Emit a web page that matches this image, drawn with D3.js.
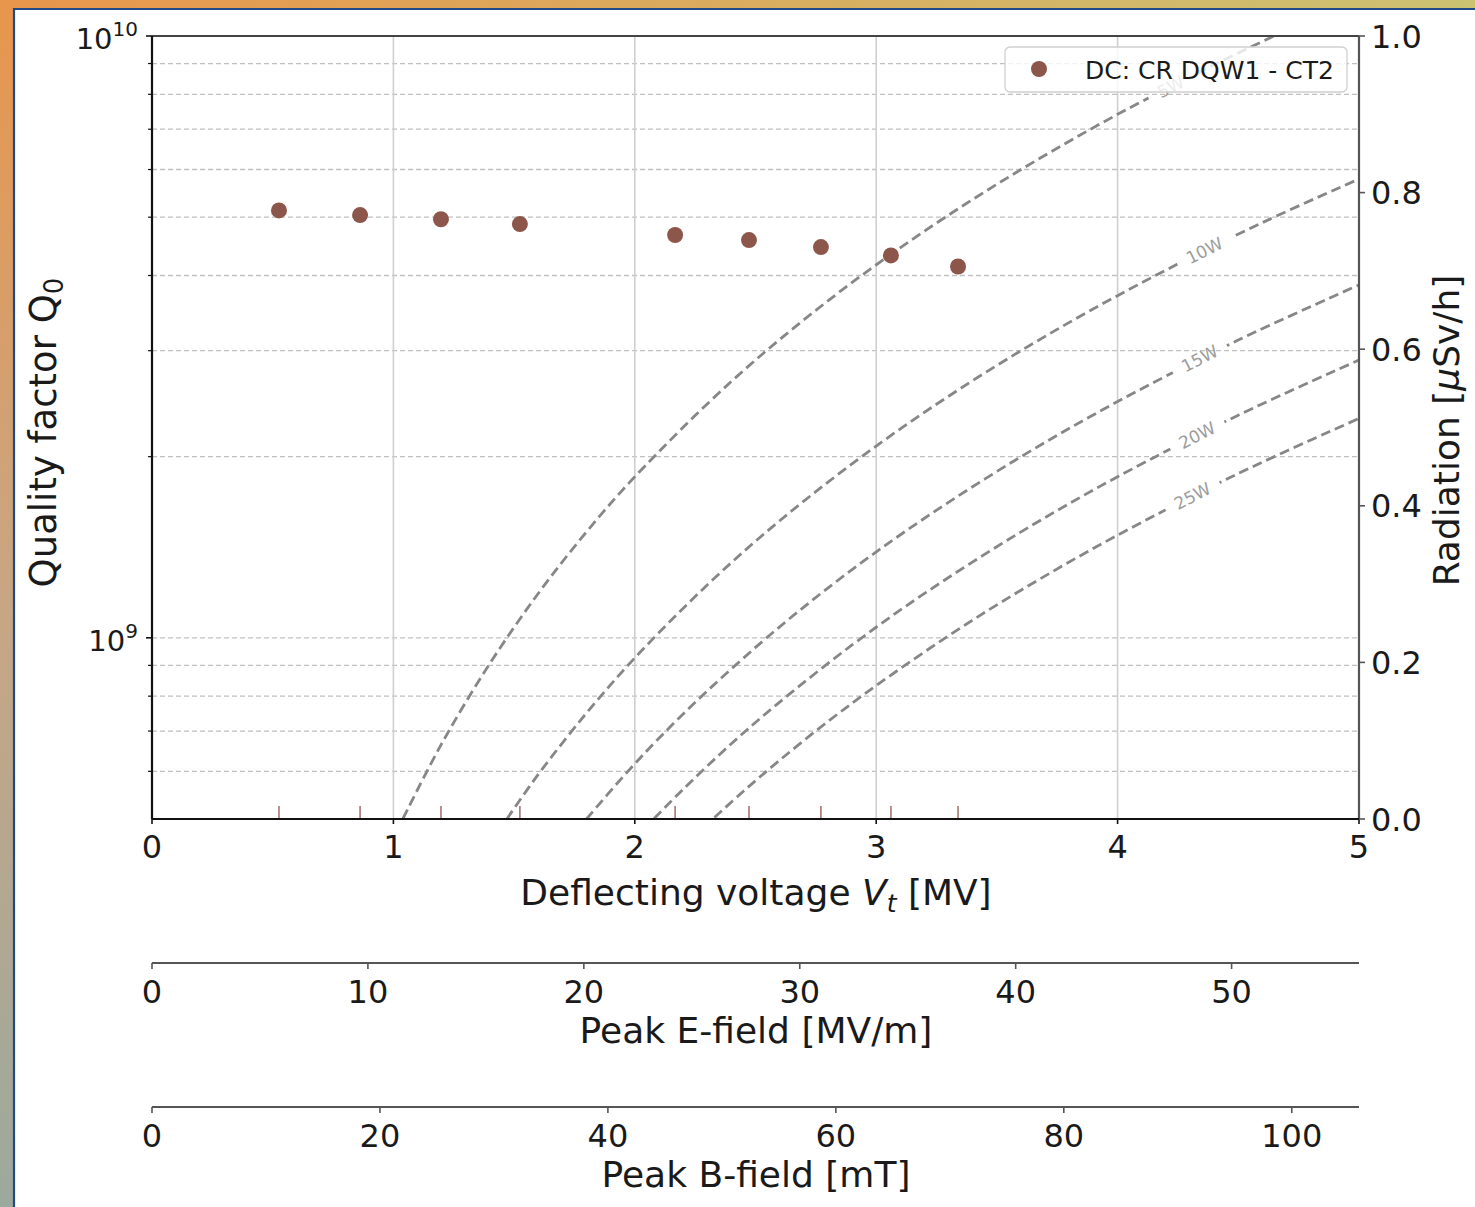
<!DOCTYPE html>
<html>
<head>
<meta charset="utf-8">
<script src="https://cdn.jsdelivr.net/npm/d3@7/dist/d3.min.js"></script>
<style>
  body { margin: 0; background: #fff; }
  svg { display: block; }
  text { font-family: "DejaVu Sans", sans-serif; fill: #1a1a1a; }
</style>
</head>
<body>
<div id="chart"></div>
<script>
// measured points (cavity DC: CR DQW1 - CT2)
const voltage = [0.526, 0.862, 1.197, 1.524, 2.167, 2.473, 2.771, 3.061, 3.339];
const q0 = [5.13e9, 5.04e9, 4.96e9, 4.87e9, 4.67e9, 4.58e9, 4.46e9, 4.32e9, 4.14e9];
const radiation = [0, 0, 0, 0, 0, 0, 0, 0, 0];

// constant dissipated power lines
const powerLabels = ["5W", "10W", "15W", "20W", "25W"];
const powerV = [
  [1.04, 1.2, 1.4, 1.6, 1.8, 2.0, 2.4, 2.8, 3.2, 3.6, 4.0, 4.4, 4.65],
  [1.47, 1.6, 1.8, 2.0, 2.3, 2.6, 3.0, 3.4, 3.8, 4.2, 4.6, 5.0],
  [1.8, 1.95, 2.1, 2.3, 2.6, 2.9, 3.2, 3.6, 4.0, 4.5, 5.0],
  [2.08, 2.2, 2.4, 2.6, 2.9, 3.2, 3.6, 4.0, 4.5, 5.0],
  [2.33, 2.45, 2.6, 2.8, 3.0, 3.3, 3.6, 4.0, 4.5, 5.0]
];
const powerQ = [
  [5.01e8, 6.67e8, 9.07e8, 1.185e9, 1.50e9, 1.852e9, 2.667e9, 3.63e9, 4.74e9, 6.00e9, 7.41e9, 8.96e9, 1.001e10],
  [5.00e8, 5.93e8, 7.50e8, 9.26e8, 1.224e9, 1.565e9, 2.083e9, 2.676e9, 3.343e9, 4.083e9, 4.898e9, 5.787e9],
  [5.00e8, 5.87e8, 6.81e8, 8.16e8, 1.043e9, 1.298e9, 1.580e9, 2.00e9, 2.469e9, 3.125e9, 3.858e9],
  [5.01e8, 5.60e8, 6.67e8, 7.82e8, 9.73e8, 1.185e9, 1.50e9, 1.852e9, 2.344e9, 2.894e9],
  [5.03e8, 5.56e8, 6.26e8, 7.26e8, 8.33e8, 1.008e9, 1.20e9, 1.481e9, 1.875e9, 2.315e9]
];
const labelV = [4.22, 4.36, 4.34, 4.33, 4.31];
const labelQ = [8.23e9, 4.40e9, 2.91e9, 2.17e9, 1.72e9];

// axes
const xDomain = [0, 5];
const xTicks = [0, 1, 2, 3, 4, 5];
const qDomain = [5e8, 1e10];
const qMajor = [1e9, 1e10];
const qMinor = [6e8, 7e8, 8e8, 9e8, 2e9, 3e9, 4e9, 5e9, 6e9, 7e9, 8e9, 9e9];
const radDomain = [0, 1];
const radTicks = [0, 0.2, 0.4, 0.6, 0.8, 1.0];
const eDomain = [0, 55.9];
const eTicks = [0, 10, 20, 30, 40, 50];
const bDomain = [0, 105.9];
const bTicks = [0, 20, 40, 60, 80, 100];

const W = 1475, H = 1207;
const pL = 152, pR = 1359, pT = 36, pB = 819;
const brown = "#8c564b";

const svg = d3.select("#chart").append("svg").attr("width", W).attr("height", H);
const defs = svg.append("defs");

// slide background frame
const gTop = defs.append("linearGradient").attr("id", "gTop").attr("x1", 0).attr("x2", 1).attr("y1", 0).attr("y2", 0);
gTop.append("stop").attr("offset", 0).attr("stop-color", "#e8964c");
gTop.append("stop").attr("offset", 1).attr("stop-color", "#cbc272");
const gLeft = defs.append("linearGradient").attr("id", "gLeft").attr("x1", 0).attr("x2", 0).attr("y1", 0).attr("y2", 1);
gLeft.append("stop").attr("offset", 0).attr("stop-color", "#e8964c");
gLeft.append("stop").attr("offset", 0.5).attr("stop-color", "#c8a684");
gLeft.append("stop").attr("offset", 1).attr("stop-color", "#9ca99e");
svg.append("rect").attr("x", 0).attr("y", 0).attr("width", W).attr("height", 9).attr("fill", "url(#gTop)");
svg.append("rect").attr("x", 0).attr("y", 0).attr("width", 14).attr("height", H).attr("fill", "url(#gLeft)");
svg.append("path").attr("d", `M14,${H}V9H${W}`).attr("fill", "none").attr("stroke", "#1f4a85").attr("stroke-width", 2.2);

const x = d3.scaleLinear().domain(xDomain).range([pL, pR]);
const y = d3.scaleLog().domain(qDomain).range([pB, pT]);
const yr = d3.scaleLinear().domain(radDomain).range([pB, pT]);
const xe = d3.scaleLinear().domain(eDomain).range([pL, pR]);
const xb = d3.scaleLinear().domain(bDomain).range([pL, pR]);

defs.append("clipPath").attr("id", "plotClip")
  .append("rect").attr("x", pL).attr("y", pT).attr("width", pR - pL).attr("height", pB - pT);

// grid
const grid = svg.append("g");
grid.selectAll(".hg").data(qMajor.concat(qMinor)).enter().append("line")
  .attr("x1", pL).attr("x2", pR)
  .attr("y1", d => y(d)).attr("y2", d => y(d))
  .attr("stroke", "#c0c0c0").attr("stroke-width", 1.3).attr("stroke-dasharray", "5,3");
grid.selectAll(".vg").data(xTicks.slice(1, -1)).enter().append("line")
  .attr("x1", d => x(d)).attr("x2", d => x(d))
  .attr("y1", pT).attr("y2", pB)
  .attr("stroke", "#cfcfcf").attr("stroke-width", 1.6);

// contour lines, broken where labels sit
const mask = defs.append("mask").attr("id", "gapMask").attr("maskUnits", "userSpaceOnUse")
  .attr("x", 0).attr("y", 0).attr("width", W).attr("height", H);
mask.append("rect").attr("width", W).attr("height", H).attr("fill", "#fff");

const line = d3.line().x(d => x(d[0])).y(d => y(d[1])).curve(d3.curveCatmullRom);
const curves = svg.append("g").attr("clip-path", "url(#plotClip)")
  .append("g").attr("mask", "url(#gapMask)");
powerLabels.forEach((lab, i) => {
  const pts = powerV[i].map((v, j) => [v, powerQ[i][j]]);
  curves.append("path").datum(pts).attr("d", line)
    .attr("fill", "none").attr("stroke", "#878787").attr("stroke-width", 2.8)
    .attr("stroke-dasharray", "10,5");
});

const labels = svg.append("g");
powerLabels.forEach((lab, i) => {
  const vs = powerV[i];
  let k = vs.findIndex(v => v > labelV[i]);
  if (k < 1) k = vs.length - 1;
  const ang = Math.atan2(y(powerQ[i][k]) - y(powerQ[i][k - 1]), x(vs[k]) - x(vs[k - 1])) * 180 / Math.PI;
  const lx = x(labelV[i]), ly = y(labelQ[i]);
  const t = labels.append("text")
    .attr("transform", `translate(${lx},${ly}) rotate(${ang})`)
    .attr("text-anchor", "middle").attr("dy", "0.35em")
    .style("font-size", "17px").style("fill", "#9c9c9c")
    .text(lab);
  const w = t.node().getComputedTextLength() + 22;
  mask.append("rect").attr("x", -w / 2).attr("y", -9).attr("width", w).attr("height", 18)
    .attr("transform", `translate(${lx},${ly}) rotate(${ang})`).attr("fill", "#000");
});

// radiation markers at zero and Q0 points
svg.append("g").attr("clip-path", "url(#plotClip)").selectAll("line")
  .data(voltage.map((v, i) => [v, radiation[i]])).enter().append("line")
  .attr("x1", d => x(d[0])).attr("x2", d => x(d[0]))
  .attr("y1", d => yr(d[1]) - 13).attr("y2", d => yr(d[1]) + 13)
  .attr("stroke", brown).attr("stroke-opacity", 0.8).attr("stroke-width", 1.6);

svg.append("g").selectAll("circle")
  .data(voltage.map((v, i) => [v, q0[i]])).enter().append("circle")
  .attr("cx", d => x(d[0])).attr("cy", d => y(d[1])).attr("r", 8)
  .attr("fill", brown);

// spines
svg.append("line").attr("x1", pL).attr("x2", pR).attr("y1", pT).attr("y2", pT).attr("stroke", "#444").attr("stroke-width", 2);
svg.append("line").attr("x1", pR).attr("x2", pR).attr("y1", pT).attr("y2", pB).attr("stroke", "#555").attr("stroke-width", 2.2);
svg.append("line").attr("x1", pL).attr("x2", pL).attr("y1", pT).attr("y2", pB).attr("stroke", "#111").attr("stroke-width", 2.2);
svg.append("line").attr("x1", pL).attr("x2", pR).attr("y1", pB).attr("y2", pB).attr("stroke", "#111").attr("stroke-width", 2.2);

// left log axis
const la = svg.append("g");
la.selectAll(".mj").data(qMajor).enter().append("line")
  .attr("x1", pL - 6).attr("x2", pL).attr("y1", d => y(d)).attr("y2", d => y(d))
  .attr("stroke", "#111").attr("stroke-width", 1.6);
la.selectAll(".mn").data(qMinor).enter().append("line")
  .attr("x1", pL - 4).attr("x2", pL).attr("y1", d => y(d)).attr("y2", d => y(d))
  .attr("stroke", "#111").attr("stroke-width", 1.2);
qMajor.forEach(d => {
  const t = la.append("text").attr("x", pL - 14).attr("y", y(d) + 13)
    .attr("text-anchor", "end").style("font-size", "29px");
  t.append("tspan").text("10");
  t.append("tspan").attr("dy", -13).style("font-size", "20px").text(Math.round(Math.log10(d)));
});

// bottom axis
const xa = svg.append("g");
xa.selectAll("line").data(xTicks).enter().append("line")
  .attr("x1", d => x(d)).attr("x2", d => x(d)).attr("y1", pB).attr("y2", pB + 5)
  .attr("stroke", "#111").attr("stroke-width", 1.6);
xa.selectAll("text").data(xTicks).enter().append("text")
  .attr("x", d => x(d)).attr("y", pB + 39).attr("text-anchor", "middle")
  .style("font-size", "32px").text(d => d);
const xl = svg.append("text").attr("x", 756).attr("y", 905)
  .attr("text-anchor", "middle").style("font-size", "36px");
xl.append("tspan").text("Deflecting voltage ");
xl.append("tspan").style("font-style", "italic").text("V");
xl.append("tspan").attr("dy", 7).style("font-style", "italic").style("font-size", "25px").text("t");
xl.append("tspan").attr("dy", -7).text(" [MV]");

// right radiation axis
const ra = svg.append("g");
ra.selectAll("line").data(radTicks).enter().append("line")
  .attr("x1", pR).attr("x2", pR + 6).attr("y1", d => yr(d)).attr("y2", d => yr(d))
  .attr("stroke", "#555").attr("stroke-width", 1.6);
ra.selectAll("text").data(radTicks).enter().append("text")
  .attr("x", pR + 12).attr("y", d => yr(d)).attr("dy", "0.36em")
  .style("font-size", "32px").text(d => d.toFixed(1));
const rl = svg.append("text").attr("transform", `translate(1459,${(pT + pB) / 2 + 3}) rotate(-90)`)
  .attr("text-anchor", "middle").style("font-size", "36px");
rl.append("tspan").text("Radiation [");
rl.append("tspan").style("font-style", "italic").text("\u03bc");
rl.append("tspan").text("Sv/h]");

const yl = svg.append("text").attr("transform", `translate(56,${(pT + pB) / 2 + 5}) rotate(-90)`)
  .attr("text-anchor", "middle").style("font-size", "37px");
yl.append("tspan").text("Quality factor Q");
yl.append("tspan").attr("dy", 7).style("font-size", "26px").text("0");

// extra field axes
function fieldAxis(scale, ticks, yPos, title) {
  const g = svg.append("g");
  g.append("line").attr("x1", pL).attr("x2", pR).attr("y1", yPos).attr("y2", yPos)
    .attr("stroke", "#555").attr("stroke-width", 1.8);
  g.selectAll(".tk").data(ticks).enter().append("line")
    .attr("x1", d => scale(d)).attr("x2", d => scale(d)).attr("y1", yPos).attr("y2", yPos + 6)
    .attr("stroke", "#555").attr("stroke-width", 1.6);
  g.selectAll("text.tl").data(ticks).enter().append("text")
    .attr("x", d => scale(d)).attr("y", yPos + 40).attr("text-anchor", "middle")
    .style("font-size", "32px").text(d => d);
  g.append("text").attr("x", 756).attr("y", yPos + 80)
    .attr("text-anchor", "middle").style("font-size", "36px").text(title);
}
fieldAxis(xe, eTicks, 963, "Peak E-field [MV/m]");
fieldAxis(xb, bTicks, 1107, "Peak B-field [mT]");

// legend
const lg = svg.append("g");
lg.append("rect").attr("x", 1005).attr("y", 47).attr("width", 342).attr("height", 45).attr("rx", 5)
  .attr("fill", "#fff").attr("fill-opacity", 0.8).attr("stroke", "#d0d0d0").attr("stroke-width", 1.3);
lg.append("circle").attr("cx", 1039).attr("cy", 69).attr("r", 8).attr("fill", brown);
lg.append("text").attr("x", 1085).attr("y", 70).attr("dy", "0.36em").style("font-size", "25px")
  .text("DC: CR DQW1 - CT2");
</script>
</body>
</html>
